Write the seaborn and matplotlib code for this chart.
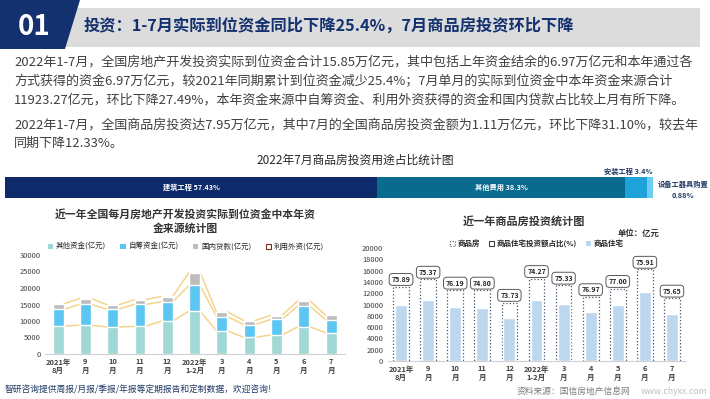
import numpy as np
import pandas as pd
import matplotlib
matplotlib.use("Agg")
import matplotlib.pyplot as plt
from matplotlib.patches import Polygon, Rectangle, Patch
import seaborn as sns

# -----------------------------
# Data
# -----------------------------
months = ["2021年\n8月", "9\n月", "10\n月", "11\n月", "12\n月", "2022年\n1-2月",
          "3\n月", "4\n月", "5\n月", "6\n月", "7\n月"]

# 本年资金来源 (亿元)
other_funds = [8500, 8700, 8200, 8400, 10000, 13000, 7000, 5050, 5750, 8300, 6450]
self_funds = [5050, 6350, 5350, 6650, 5850, 7800, 4350, 3850, 4750, 6350, 3950]
loans = [1500, 1700, 1200, 1300, 1500, 3850, 1300, 1100, 1100, 1500, 1300]
foreign = [120, 120, 120, 120, 120, 120, 120, 120, 120, 120, 60]

# 商品房投资 (亿元)
commercial = [13160, 14440, 12510, 12510, 10350, 14560, 13390, 11350, 12810, 16200, 11100]
residential = [9990, 10880, 9530, 9360, 7630, 10810, 10090, 8740, 9860, 12300, 8400]
resi_share = ["75.89", "75.37", "76.19", "74.80", "73.73", "74.27",
              "75.33", "76.97", "77.00", "75.91", "75.65"]

# 7月商品房投资用途占比
usage_names = ["建筑工程", "其他费用", "安装工程", "设备工器具购置"]
usage_share = [57.43, 38.3, 3.4, 0.88]
usage_labels = ["57.43%", "38.3%", "3.4%", "0.88%"]

sns.set_theme(style="white")
plt.rcParams["font.family"] = ["Noto Sans CJK SC", "DejaVu Sans"]

W, H = 710, 399
fig = plt.figure(figsize=(7.1, 3.99), dpi=100)
fig.patch.set_facecolor("white")


def fx(px):
    return px / W


def fy(py):
    return 1 - py / H


def px_axes(left, top, right, bottom):
    return fig.add_axes([fx(left), fy(bottom), (right - left) / W, (bottom - top) / H])


NAVY = "#13306F"
TEXT = "#404040"

# -----------------------------
# Header
# -----------------------------
fig.patches.append(Rectangle((fx(60), fy(47)), fx(700) - fx(60), fy(8) - fy(47),
                             transform=fig.transFigure, fc="#DCDCDC", ec="none", zorder=0))
fig.patches.append(Polygon([(fx(0), fy(0)), (fx(80), fy(0)), (fx(65), fy(49)), (fx(0), fy(49))],
                           closed=True, transform=fig.transFigure, fc=NAVY, ec="none", zorder=1))
fig.text(fx(34), fy(27), "01", color="white", fontsize=20, fontweight="bold",
         ha="center", va="center", zorder=2)
fig.text(fx(84), fy(26), "投资：1-7月实际到位资金同比下降25.4%，7月商品房投资环比下降",
         color=NAVY, fontsize=11.7, fontweight="bold", ha="left", va="center")

paragraph = [
    (62, "2022年1-7月，全国房地产开发投资实际到位资金合计15.85万亿元，其中包括上年资金结余的6.97万亿元和本年通过各"),
    (81, "方式获得的资金6.97万亿元，较2021年同期累计到位资金减少25.4%；7月单月的实际到位资金中本年资金来源合计"),
    (100, "11923.27亿元，环比下降27.49%，本年资金来源中自筹资金、利用外资获得的资金和国内贷款占比较上月有所下降。"),
    (125, "2022年1-7月，全国商品房投资达7.95万亿元，其中7月的全国商品房投资金额为1.11万亿元，环比下降31.10%，较去年"),
    (143, "同期下降12.33%。"),
]
for y, line in paragraph:
    fig.text(fx(14), fy(y), line, color=TEXT, fontsize=9.4, ha="left", va="center")

# -----------------------------
# Usage share bar
# -----------------------------
fig.text(fx(355), fy(160), "2022年7月商品房投资用途占比统计图", color="#262626",
         fontsize=8.5, ha="center", va="center")
ax0 = px_axes(5, 177, 653, 198)
usage_colors = ["#0F2A6A", "#0B6B8E", "#1DA3DA", "#6FCDF3"]
left = 0
for name, share, lab, col in zip(usage_names, usage_share, usage_labels, usage_colors):
    ax0.barh(0, share, left=left, height=1.0, color=col, edgecolor="none")
    left += share
ax0.set_xlim(0, sum(usage_share))
ax0.set_ylim(-0.5, 0.5)
ax0.axis("off")
ax0.text(usage_share[0] / 2, 0, f"{usage_names[0]} {usage_labels[0]}", color="white",
         fontsize=5.2, fontweight="bold", ha="center", va="center")
ax0.text(usage_share[0] + usage_share[1] / 2, 0, f"{usage_names[1]} {usage_labels[1]}",
         color="white", fontsize=5.2, fontweight="bold", ha="center", va="center")
fig.text(fx(628), fy(171), f"{usage_names[2]} {usage_labels[2]}", color="#1F3864",
         fontsize=5.2, fontweight="bold", ha="center", va="center")
fig.text(fx(683), fy(184), usage_names[3], color="#1F3864",
         fontsize=5.2, fontweight="bold", ha="center", va="center")
fig.text(fx(683), fy(195), usage_labels[3], color="#1F3864",
         fontsize=5.2, fontweight="bold", ha="center", va="center")

# -----------------------------
# Left chart: funds sources
# -----------------------------
fig.text(fx(185), fy(214), "近一年全国每月房地产开发投资实际到位资金中本年资",
         color="#333333", fontsize=7.8, fontweight="bold", ha="center", va="center")
fig.text(fx(185), fy(228), "金来源统计图",
         color="#333333", fontsize=7.8, fontweight="bold", ha="center", va="center")

ax1 = px_axes(45, 255, 345, 354)
funds = pd.DataFrame({"月份": months, "其他资金": other_funds, "自筹资金": self_funds,
                      "国内贷款": loans, "利用外资": foreign})
level1 = funds["其他资金"]
level2 = level1 + funds["自筹资金"]
level3 = level2 + funds["国内贷款"]
level4 = level3 + funds["利用外资"]

fund_colors = ["#9FD8D4", "#5CC6F2", "#BDBDBD", "#3F3F3F"]
for lvl, col in zip([level4, level3, level2, level1], fund_colors[::-1]):
    sns.barplot(x=funds["月份"], y=lvl, order=months, color=col, width=0.4,
                saturation=1, errorbar=None, ax=ax1, zorder=3)

# series lines between bars
half = 0.2
for lvl in [level1, level2, level4]:
    for i in range(len(months) - 1):
        ax1.plot([i + half, i + 1 - half], [lvl[i], lvl[i + 1]],
                 color="#F4D48C", lw=1.1, zorder=2)

ax1.set_xlim(-0.48, 10.51)
ax1.set_ylim(0, 30000)
ax1.set_yticks(range(0, 30001, 5000))
ax1.set_xlabel("")
ax1.set_ylabel("")
ax1.tick_params(axis="y", labelsize=5.4, colors="#404040", length=0, pad=3)
ax1.tick_params(axis="x", labelsize=5.4, colors="#404040", length=0, pad=3)
for t in ax1.get_xticklabels():
    t.set_fontweight("bold")
    t.set_linespacing(1.25)
for s in ["top", "right", "left"]:
    ax1.spines[s].set_visible(False)
ax1.spines["bottom"].set_color("#D0D0D0")
ax1.spines["bottom"].set_linewidth(0.8)
ax1.set_facecolor("none")

fund_handles = [Patch(fc=fund_colors[0], ec="none"), Patch(fc=fund_colors[1], ec="none"),
                Patch(fc=fund_colors[2], ec="none"), Patch(fc="white", ec="#7A2A1A", lw=0.8)]
ax1.legend(fund_handles, ["其他资金(亿元)", "自筹资金(亿元)", "国内贷款(亿元)", "利用外资(亿元)"],
           loc="center", bbox_to_anchor=(0.47, 1.08), ncol=4, frameon=False, fontsize=5.4,
           handlelength=0.7, handleheight=0.7, handletextpad=0.4, columnspacing=1.9)

# -----------------------------
# Right chart: commercial housing investment
# -----------------------------
fig.text(fx(524), fy(221), "近一年商品房投资统计图", color="#333333", fontsize=8,
         fontweight="bold", ha="center", va="center")
fig.text(fx(639), fy(233), "单位：亿元", color="#333333", fontsize=6,
         fontweight="bold", ha="center", va="center")

ax2 = px_axes(387.5, 248, 685.5, 361)
invest = pd.DataFrame({"月份": months, "商品房": commercial, "商品住宅": residential})
sns.barplot(data=invest, x="月份", y="商品房", order=months, fill=False, color="#44546A",
            width=0.58, errorbar=None, linestyle=":", linewidth=0.9, ax=ax2, zorder=2)
sns.barplot(data=invest, x="月份", y="商品住宅", order=months, color="#BDD7EE",
            saturation=1, width=0.44, errorbar=None, ax=ax2, zorder=3)

for i, (tot, lab) in enumerate(zip(commercial, resi_share)):
    ax2.text(i, tot + 650, lab, fontsize=5, fontweight="bold", color="#262626",
             ha="center", va="bottom", zorder=5,
             bbox=dict(boxstyle="round,pad=0.35,rounding_size=0.5", fc="white",
                       ec="#595959", lw=0.7))

ax2.set_xlim(-0.5, 10.5)
ax2.set_ylim(0, 20000)
ax2.set_yticks(range(0, 20001, 2000))
ax2.set_xlabel("")
ax2.set_ylabel("")
ax2.tick_params(axis="y", labelsize=5.4, colors="#404040", length=0, pad=3)
ax2.tick_params(axis="x", labelsize=5.4, colors="#404040", length=0, pad=3)
for t in ax2.get_xticklabels():
    t.set_fontweight("bold")
    t.set_linespacing(1.25)
for s in ["top", "right", "left"]:
    ax2.spines[s].set_visible(False)
ax2.spines["bottom"].set_color("#D0D0D0")
ax2.spines["bottom"].set_linewidth(0.8)
ax2.set_facecolor("none")

inv_handles = [Patch(fc="white", ec="#44546A", ls=":", lw=0.8),
               Patch(fc="white", ec="#404040", lw=0.8),
               Patch(fc="#BDD7EE", ec="none")]
ax2.legend(inv_handles, ["商品房", "商品住宅投资额占比(%)", "商品住宅"],
           loc="center", bbox_to_anchor=(0.5, 1.04), ncol=3, frameon=False,
           handlelength=0.7, handleheight=0.7, handletextpad=0.3, columnspacing=1.2,
           prop={"weight": "bold", "size": 5.4})

# -----------------------------
# Footer
# -----------------------------
fig.text(fx(5), fy(390), "智研咨询提供周报/月报/季报/年报等定期报告和定制数据，欢迎咨询!",
         color="#1F3864", fontsize=6.3, ha="left", va="center")
fig.text(fx(517), fy(391), "资料来源：国信房地产信息网", color="#7F7F7F", fontsize=6.3,
         ha="left", va="center")
fig.text(fx(707), fy(391), "www.chyxx.com", color="#BFBFBF", fontsize=6.3,
         ha="right", va="center")

fig.savefig("out.png", dpi=100)
